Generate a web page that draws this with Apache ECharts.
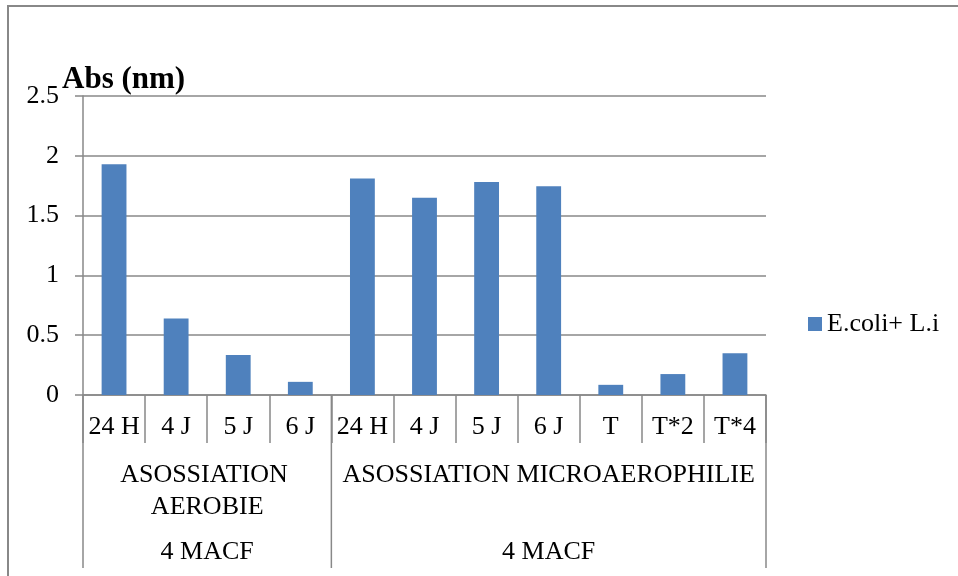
<!DOCTYPE html>
<html>
<head>
<meta charset="utf-8">
<script src="https://cdn.jsdelivr.net/npm/echarts@6/dist/echarts.min.js"></script>
<style>
  html, body { margin: 0; padding: 0; background: #fff; }
  #chart { width: 958px; height: 576px; }
</style>
</head>
<body>
<div id="chart"></div>
<script>
// Absorbance readings, E. coli + L.i association
const categories = ['24 H', '4 J', '5 J', '6 J', '24 H', '4 J', '5 J', '6 J', 'T', 'T*2', 'T*4'];
const aerobieValues = [1.93, 0.64, 0.335, 0.11];
const microValues = [1.81, 1.65, 1.78, 1.745, 0.085, 0.175, 0.35];
const seriesName = 'E.coli+ L.i';
const yTicks = [0, 0.5, 1, 1.5, 2, 2.5];

// Second and third label rows: each group spans a run of categories
const groupLabels = ['ASOSSIATION AEROBIE', 'ASOSSIATION MICROAEROPHILIE'];
const groupSizes = [aerobieValues.length, microValues.length];
const outerLabels = ['4 MACF', '4 MACF'];

const values = aerobieValues.concat(microValues);

const FONT = '"Liberation Serif", "Times New Roman", serif';
const GRID_COLOR = '#888888';
const BAR_COLOR = '#4F81BD';

const chart = echarts.init(document.getElementById('chart'));

const option = {
  animation: false,
  backgroundColor: '#ffffff',
  title: {
    text: 'Abs (nm)',
    left: 62,
    top: 64,
    padding: 0,
    textStyle: { fontFamily: FONT, fontSize: 31, fontWeight: 'bold', color: '#000' }
  },
  legend: {
    data: [seriesName],
    left: 808,
    top: 311,
    padding: 0,
    icon: 'rect',
    itemWidth: 14,
    itemHeight: 14,
    textStyle: { fontFamily: FONT, fontSize: 26, color: '#000' }
  },
  grid: { left: 83, right: 192, top: 96, bottom: 181, containLabel: false },
  xAxis: {
    type: 'category',
    data: categories,
    boundaryGap: true,
    axisLine: { show: true, lineStyle: { color: GRID_COLOR, width: 1.5 } },
    axisTick: { show: true, interval: 0, length: 48, lineStyle: { color: GRID_COLOR, width: 1.5 } },
    axisLabel: { interval: 0, margin: 19, fontFamily: FONT, fontSize: 26, color: '#000' },
    splitLine: { show: false }
  },
  yAxis: {
    type: 'value',
    min: yTicks[0],
    max: yTicks[yTicks.length - 1],
    interval: 0.5,
    axisLine: { show: true, lineStyle: { color: GRID_COLOR, width: 1.5 } },
    axisTick: { show: true, length: 8, lineStyle: { color: GRID_COLOR, width: 1.5 } },
    axisLabel: { margin: 24, fontFamily: FONT, fontSize: 26, color: '#000' },
    splitLine: { show: true, lineStyle: { color: GRID_COLOR, width: 1.5 } }
  },
  series: [{
    name: seriesName,
    type: 'bar',
    data: values,
    barWidth: '40%',
    itemStyle: { color: BAR_COLOR }
  }]
};

chart.setOption(option);

// Multi-level category labels and the outer frame
function drawGroups() {
  const c0 = chart.convertToPixel({ xAxisIndex: 0 }, 0);
  const c1 = chart.convertToPixel({ xAxisIndex: 0 }, 1);
  const band = c1 - c0;
  const axisY = chart.convertToPixel({ yAxisIndex: 0 }, 0);
  const lineBottom = 568;
  const elements = [];

  elements.push({
    type: 'rect',
    shape: { x: 8, y: 6, width: 1000, height: 620 },
    style: { fill: 'none', stroke: GRID_COLOR, lineWidth: 2 },
    silent: true
  });

  let start = 0;
  const edges = [];
  groupSizes.forEach((size, g) => {
    const left = chart.convertToPixel({ xAxisIndex: 0 }, start) - band / 2;
    const right = chart.convertToPixel({ xAxisIndex: 0 }, start + size - 1) + band / 2;
    const mid = (left + right) / 2;
    const width = right - left;
    edges.push(left);
    if (g === groupSizes.length - 1) edges.push(right);

    elements.push({
      type: 'text',
      x: mid,
      y: 459,
      style: {
        text: groupLabels[g],
        width: width,
        overflow: 'break',
        align: 'center',
        verticalAlign: 'top',
        lineHeight: 32,
        fontFamily: FONT,
        fontSize: 26,
        fill: '#000'
      },
      silent: true
    });
    elements.push({
      type: 'text',
      x: mid,
      y: 552,
      style: {
        text: outerLabels[g],
        align: 'center',
        verticalAlign: 'middle',
        fontFamily: FONT,
        fontSize: 26,
        fill: '#000'
      },
      silent: true
    });
    start += size;
  });

  edges.forEach(x => {
    elements.push({
      type: 'line',
      shape: { x1: x, y1: axisY, x2: x, y2: lineBottom },
      style: { stroke: GRID_COLOR, lineWidth: 1.5 },
      silent: true
    });
  });

  chart.setOption({ graphic: elements });
}

drawGroups();
</script>
</body>
</html>
